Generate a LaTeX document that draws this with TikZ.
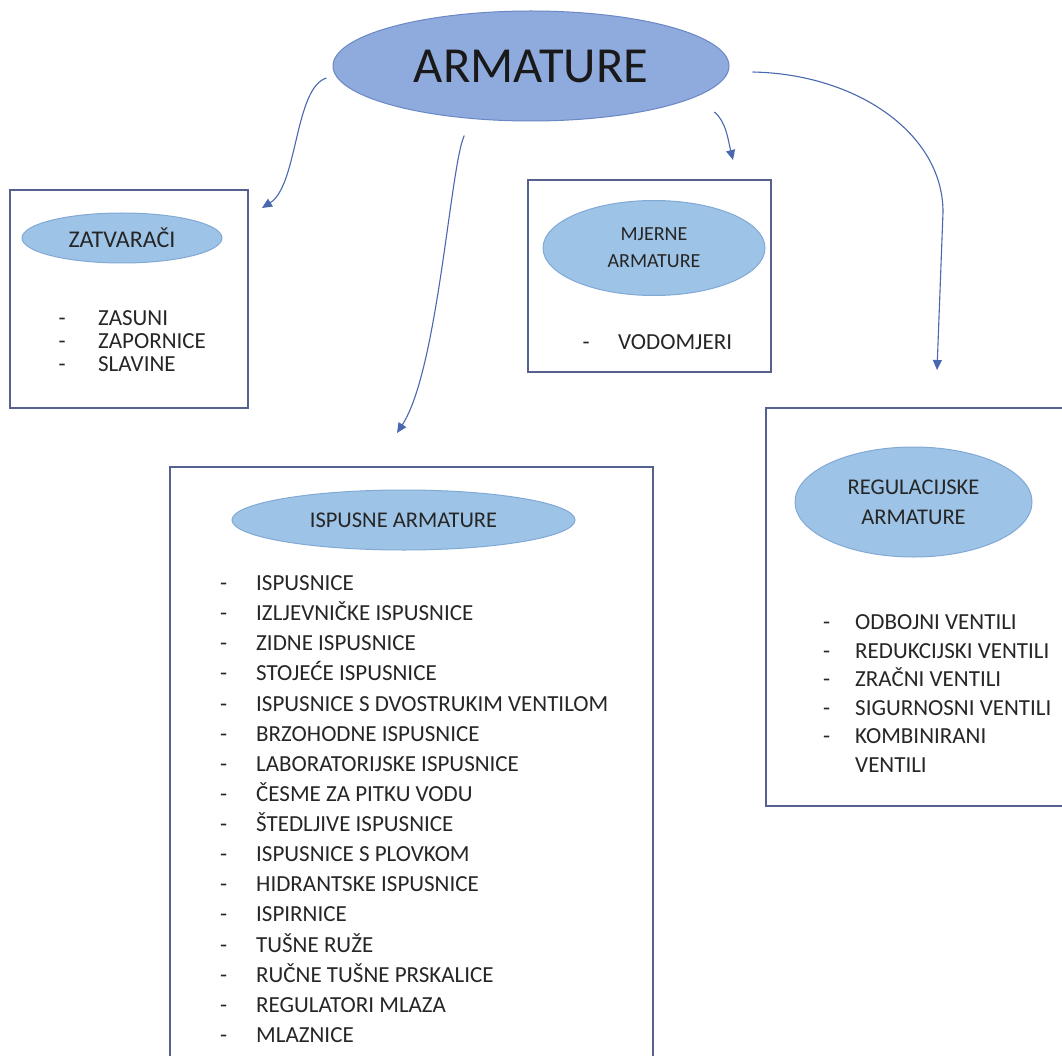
\documentclass[tikz,border=0pt]{standalone}
\usepackage{fontspec}
\setmainfont{Carlito}
\usetikzlibrary{shapes,arrows.meta}

\definecolor{glavnaplava}{HTML}{8FAADC}
\definecolor{glavnarub}{HTML}{6A87C6}
\definecolor{svijetloplava}{HTML}{9DC3E6}
\definecolor{svijetlorub}{HTML}{82A9D6}
\definecolor{okvirrub}{HTML}{55628F}
\definecolor{strelicaboja}{HTML}{4A68B0}
\definecolor{tekst}{HTML}{262626}

\tikzstyle{glavna} = [ellipse, draw=glavnarub, fill=glavnaplava, line width=1pt, inner sep=0pt, text=black!90]
\tikzstyle{tema} = [ellipse, draw=svijetlorub, fill=svijetloplava, line width=1pt, inner sep=0pt, align=center, text=tekst]
\tikzstyle{okvir} = [rectangle, draw=okvirrub, line width=1.1pt, inner sep=0pt]
\tikzstyle{popis} = [anchor=base west, align=left, inner sep=0pt, text=tekst]
\tikzstyle{strelica} = [line width=1.1pt, draw=strelicaboja, -{Triangle[length=10pt,width=9pt]}]

% crtica ispred stavke popisa
\newcommand{\crtica}[1]{\makebox[#1][l]{-}}

\begin{document}
\begin{tikzpicture}[x=1pt,y=-1pt]
\useasboundingbox (0,0) rectangle (1062,1056);
\clip (0,0) rectangle (1062,1056);
\fill[white] (0,0) rectangle (1062,1056);

% glavni pojam
\node[glavna, minimum width=396pt, minimum height=110pt,
    font=\fontsize{50.5}{55}\selectfont] (armature) at (531,66) {ARMATURE};

% okviri
\node[okvir, minimum width=238pt, minimum height=218pt] (zatvaraci) at (129,299) {};
\node[okvir, minimum width=243pt, minimum height=192pt] (mjerne) at (649.5,276) {};
\node[okvir, minimum width=483pt, minimum height=610pt] (ispusne) at (411.5,772) {};
\node[okvir, minimum width=309pt, minimum height=398pt] (regulacijske) at (920.5,607) {};

% podnaslovi
\node[tema, minimum width=200pt, minimum height=50pt,
    font=\fontsize{24}{27}\selectfont] (zatNaslov) at (122,238) {ZATVARAČI};
\node[tema, minimum width=222pt, minimum height=95pt,
    font=\fontsize{20}{27}\selectfont] (mjNaslov) at (654,248) {MJERNE\\ARMATURE};
\node[tema, minimum width=343pt, minimum height=60pt,
    font=\fontsize{22.5}{27}\selectfont] (ispNaslov) at (403.5,520) {ISPUSNE ARMATURE};
\node[tema, minimum width=237pt, minimum height=110pt,
    font=\fontsize{22.5}{30}\selectfont] (regNaslov) at (913.5,502) {REGULACIJSKE\\ARMATURE};

% popisi (tocka je osnovna linija zadnjeg retka)
\node[popis, font=\fontsize{23}{23}\selectfont] (zatPopis) at (58.5,371)
    {\crtica{39.5pt}ZASUNI\\ \crtica{39.5pt}ZAPORNICE\\ \crtica{39.5pt}SLAVINE};
\node[popis, font=\fontsize{23}{28}\selectfont] (mjPopis) at (582.5,349)
    {\crtica{35.5pt}VODOMJERI};
\node[popis, font=\fontsize{23}{30.13}\selectfont] (ispPopis) at (220,1042.5)
    {\crtica{36pt}ISPUSNICE\\
     \crtica{36pt}IZLJEVNIČKE ISPUSNICE\\
     \crtica{36pt}ZIDNE ISPUSNICE\\
     \crtica{36pt}STOJEĆE ISPUSNICE\\
     \crtica{36pt}ISPUSNICE S DVOSTRUKIM VENTILOM\\
     \crtica{36pt}BRZOHODNE ISPUSNICE\\
     \crtica{36pt}LABORATORIJSKE ISPUSNICE\\
     \crtica{36pt}ČESME ZA PITKU VODU\\
     \crtica{36pt}ŠTEDLJIVE ISPUSNICE\\
     \crtica{36pt}ISPUSNICE S PLOVKOM\\
     \crtica{36pt}HIDRANTSKE ISPUSNICE\\
     \crtica{36pt}ISPIRNICE\\
     \crtica{36pt}TUŠNE RUŽE\\
     \crtica{36pt}RUČNE TUŠNE PRSKALICE\\
     \crtica{36pt}REGULATORI MLAZA\\
     \crtica{36pt}MLAZNICE};
\node[popis, font=\fontsize{23}{28.6}\selectfont] (regPopis) at (823,772.5)
    {\crtica{32pt}ODBOJNI VENTILI\\
     \crtica{32pt}REDUKCIJSKI VENTILI\\
     \crtica{32pt}ZRAČNI VENTILI\\
     \crtica{32pt}SIGURNOSNI VENTILI\\
     \crtica{32pt}KOMBINIRANI\\
     \hspace*{32pt}VENTILI};

% strelice
\coordinate (od1) at ([shift={(-9.5,1.8)}]armature.183);
\coordinate (od2) at ([shift={(-15,16)}]armature.226.7);
\coordinate (od3) at ([shift={(6,21)}]armature.352);
\coordinate (od4) at ([shift={(23,6)}]armature.east);
\coordinate (do1) at (262,208);
\coordinate (do2) at (397,433);
\coordinate (do3) at (733,160);
\coordinate (do4) at (937,370);

\draw[strelica] (od1) .. controls +(-32,10) and +(36,-23) .. (do1);
\draw[strelica] (od2) .. controls +(-14,30) and +(41,-63) .. (do2);
\draw[strelica] (od3) .. controls +(12,10) and +(-5,-20) .. (do3);
\draw[strelica] (od4) .. controls +(105,2) and +(0,-78) .. (943,212) -- (do4);
\end{tikzpicture}
\end{document}
